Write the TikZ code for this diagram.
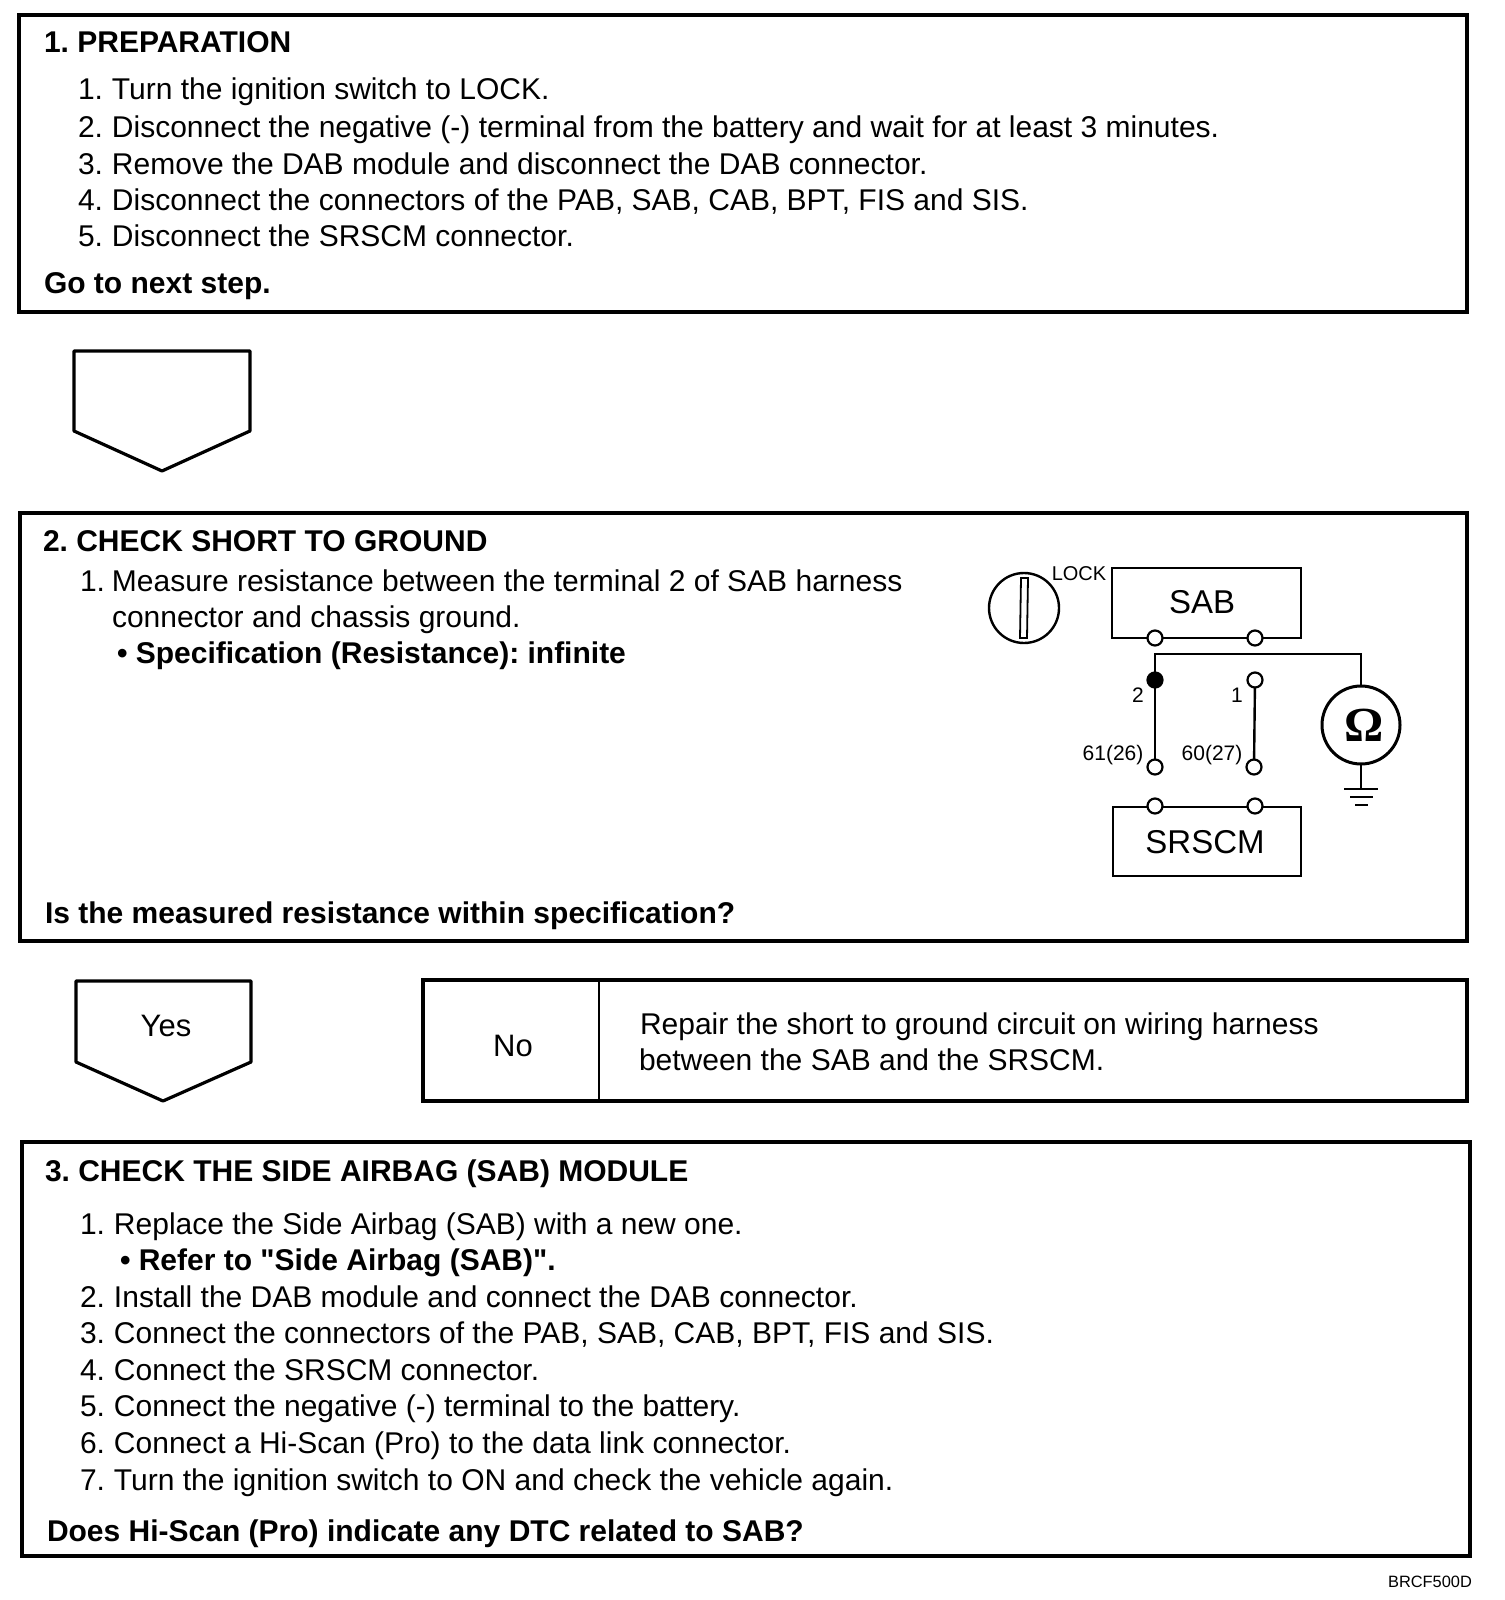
\documentclass[tikz,border=0pt]{standalone}
\usepackage{fontspec}
\setmainfont{Liberation Sans}[Ligatures=TeXOff]
\newfontfamily\omegafont{Liberation Serif}
\usetikzlibrary{positioning, calc}
\newcommand{\numitem}[2]{\makebox[34pt][l]{#1}#2}
\frenchspacing
\tikzset{
    stepbox/.style={line width=3.2pt},
    thinline/.style={line width=2.4pt},
    bodytext/.style={inner sep=0pt, outer sep=0pt, anchor=base west, font=\fontsize{30}{36}\selectfont},
    headtext/.style={bodytext, font=\fontsize{30}{36}\selectfont\bfseries},
    midtext/.style={inner sep=0pt, font=\fontsize{31}{36}\selectfont},
    modtext/.style={inner sep=0pt, font=\fontsize{33}{36}\selectfont},
    pintext/.style={inner sep=0pt, font=\fontsize{21}{24}\selectfont},
    pin/.style={circle, draw, fill=white, line width=2.2pt, minimum size=15pt, inner sep=0pt}
}
\begin{document}
\begin{tikzpicture}[x=1pt, y=-1pt, every node/.style={outer sep=0pt}]
    \useasboundingbox (0,0) rectangle (1504,1600);

    % Step 1
    \draw[stepbox] (19,15) rectangle (1467,312);
    \node[headtext] (title1) at (44,53) {1. PREPARATION};
    \node[bodytext] (prep1) at (78,100) {\numitem{1.}{Turn the ignition switch to LOCK.}};
    \node[bodytext] (prep2) at (78,137) {\numitem{2.}{Disconnect the negative (-) terminal from the battery and wait for at least 3 minutes.}};
    \node[bodytext] (prep3) at (78,174) {\numitem{3.}{Remove the DAB module and disconnect the DAB connector.}};
    \node[bodytext] (prep4) at (78,210) {\numitem{4.}{Disconnect the connectors of the PAB, SAB, CAB, BPT, FIS and SIS.}};
    \node[bodytext] (prep5) at (78,246) {\numitem{5.}{Disconnect the SRSCM connector.}};
    \node[headtext] (next1) at (44,293) {Go to next step.};

    % First arrow box
    \draw[stepbox, line join=round] (74,351) -- (250,351) -- (250,431) -- (162,471) -- (74,431) -- cycle;

    % Step 2
    \draw[stepbox] (20,513) rectangle (1467,941);
    \node[headtext] (title2) at (43,551) {2. CHECK SHORT TO GROUND};
    \node[bodytext] (meas1) at (80,591) {\makebox[32pt][l]{1.}Measure resistance between the terminal 2 of SAB harness};
    \node[bodytext] (meas2) at (112,627) {connector and chassis ground.};
    \node[headtext] (spec) at (117,663) {\textbullet\ Specification (Resistance): infinite};
    \node[headtext] (ask2) at (45,923) {Is the measured resistance within specification?};

    % Ignition switch
    \draw[thinline] (1024,608) circle (35);
    \draw[line width=1.8pt] (1021,578) -- (1028,578) -- (1027,638) -- (1020,638) -- cycle;
    \node[pintext, font=\fontsize{20}{24}\selectfont] (lock) at (1079,574) {LOCK};

    % Modules
    \draw[thinline] (1112,568) rectangle (1301,638);
    \node[modtext] (sab) at (1202,602) {SAB};
    \draw[thinline] (1113,807) rectangle (1301,876);
    \node[modtext] (srscm) at (1205,842) {SRSCM};

    % Pins
    \node[pin] (sabl) at (1155,638) {};
    \node[pin] (sabr) at (1255,638) {};
    \node[pin] (harl) at (1155,767) {};
    \node[pin] (harr) at (1254,767) {};
    \node[pin] (srl) at (1155,806) {};
    \node[pin] (srr) at (1255,806) {};
    \node[pin, fill=black] (term2) at (1155,680) {};
    \node[pin] (term1) at (1255,680) {};
    \node[pintext, anchor=center] (lab2) at (1138,695) {2};
    \node[pintext, anchor=center] (lab1) at (1237,695) {1};
    \node[pintext, anchor=center] (lab61) at (1113,755) {61(26)};
    \node[pintext, anchor=center] (lab60) at (1212,755) {60(27)};

    % Wires
    \draw[thinline] (term2) -- (harl);
    \draw[thinline] (term1) -- (harr);

    % Ohmmeter
    \node[circle, draw, line width=3pt, minimum size=78pt, inner sep=0pt] (ohm) at (1361,725) {};
    \node[inner sep=0pt, font=\omegafont\fontsize{49}{49}\selectfont\bfseries] (omega) at (1364,725) {Ω};
    \coordinate (bend) at (term2 |- 0,654);
    \draw[thinline] (term2) -- (bend) -- (ohm.north |- bend) -- (ohm.north);

    % Ground
    \coordinate (gnd) at (1361,789);
    \draw[thinline] (ohm.south) -- (gnd);
    \draw[thinline] (1344,789) -- (1378,789);
    \draw[thinline] (1350,797) -- (1373,797);
    \draw[thinline] (1355,805) -- (1368,805);

    % Yes branch
    \draw[stepbox, line join=round] (76,981) -- (251,981) -- (251,1062) -- (163,1101) -- (76,1062) -- cycle;
    \node[midtext] (yes) at (166,1026) {Yes};

    % No branch
    \draw[stepbox] (423,980) rectangle (1467,1101);
    \draw[thinline] (599,980) -- (599,1101);
    \node[midtext] (no) at (513,1046) {No};
    \node[bodytext] (rep1) at (640,1034) {Repair the short to ground circuit on wiring harness};
    \node[bodytext] (rep2) at (639,1070) {between the SAB and the SRSCM.};

    % Step 3
    \draw[stepbox] (22,1142) rectangle (1470,1556);
    \node[headtext] (title3) at (45,1181) {3. CHECK THE SIDE AIRBAG (SAB) MODULE};
    \node[bodytext] (chk1) at (80,1234) {\numitem{1.}{Replace the Side Airbag (SAB) with a new one.}};
    \node[headtext] (refer) at (120,1270) {\textbullet\ Refer to "Side Airbag (SAB)".};
    \node[bodytext] (chk2) at (80,1307) {\numitem{2.}{Install the DAB module and connect the DAB connector.}};
    \node[bodytext] (chk3) at (80,1343) {\numitem{3.}{Connect the connectors of the PAB, SAB, CAB, BPT, FIS and SIS.}};
    \node[bodytext] (chk4) at (80,1380) {\numitem{4.}{Connect the SRSCM connector.}};
    \node[bodytext] (chk5) at (80,1416) {\numitem{5.}{Connect the negative (-) terminal to the battery.}};
    \node[bodytext] (chk6) at (80,1453) {\numitem{6.}{Connect a Hi-Scan (Pro) to the data link connector.}};
    \node[bodytext] (chk7) at (80,1490) {\numitem{7.}{Turn the ignition switch to ON and check the vehicle again.}};
    \node[headtext] (ask3) at (47,1541) {Does Hi-Scan (Pro) indicate any DTC related to SAB?};

    % Figure code
    \node[inner sep=0pt, font=\fontsize{16.4}{18}\selectfont] (code) at (1430,1582) {BRCF500D};
\end{tikzpicture}
\end{document}
